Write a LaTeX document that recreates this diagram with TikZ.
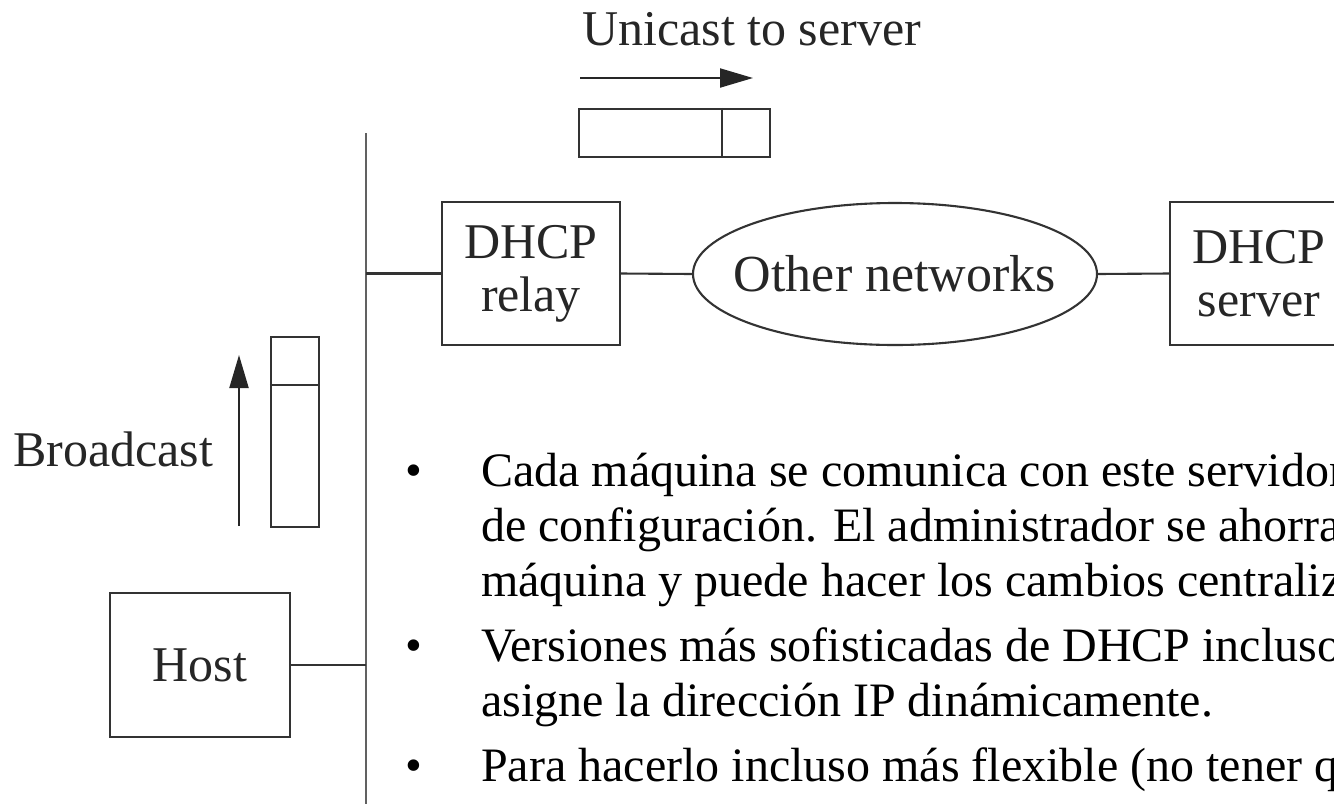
\documentclass[tikz,border=0pt]{standalone}
\usepackage{fontspec}
\setmainfont{Liberation Serif}
\usetikzlibrary{arrows.meta,shapes.geometric}
\begin{document}
\begin{tikzpicture}[x=1pt,y=-1pt,
  ln/.style={line width=2.1pt, draw=black!80},
  box/.style={ln, rectangle, minimum width=178pt, minimum height=143pt, inner sep=0pt, align=center, text=black!85, font=\fontsize{50}{53}\selectfont},
  pkt/.style={ln, rectangle, inner sep=0pt},
  lbl/.style={inner sep=0pt, anchor=base west, text=black!85, font=\fontsize{50}{53}\selectfont},
  txt/.style={inner sep=0pt, anchor=base west, font=\fontsize{48}{52}\selectfont},
  arr/.style={line width=2.1pt, draw=black!85, -{Triangle[length=33pt,width=19pt]}},
]
\useasboundingbox (0,0) rectangle (1334,804);
\begin{scope}
\clip (0,0) rectangle (1334,804);
% network bus
\coordinate (bustop) at (366,133);
\coordinate (busbot) at (366,804);
\draw[line width=2.6pt, draw=black!62] (bustop) -- (busbot);

% top row
\node[box] (relay) at (531,273.5) {DHCP\\relay};
\node[ln, ellipse, minimum width=404pt, minimum height=142pt, inner sep=0pt, text=black!85, font=\fontsize{52}{55}\selectfont] (net) at (895,274) {\makebox[0pt]{Other networks}};
\node[box] (server) at (1259,273.5) {DHCP\\server};
\draw[ln] (relay.west) -- (relay.west -| bustop);
\draw[ln] (relay.east) -- (net.west);
\draw[ln] (net.east) -- (server.west);

% unicast
\node[lbl] (unilbl) at (582,45) {Unicast to server};
\coordinate (ua0) at (580,78);
\coordinate (ua1) at (753,78);
\draw[arr] (ua0) -- (ua1);
\node[pkt, minimum width=191pt, minimum height=48pt] (upkt) at (674.5,133) {};
\draw[ln] (upkt.north -| 722,0) -- (upkt.south -| 722,0);

% host
\node[box, minimum width=180pt, minimum height=144pt] (host) at (200,665) {Host};
\draw[ln] (host.east) -- (host.east -| bustop);

% broadcast
\node[lbl] (bclbl) at (13,466) {Broadcast};
\coordinate (ba0) at (239,526);
\coordinate (ba1) at (239,355);
\draw[arr] (ba0) -- (ba1);
\node[pkt, minimum width=48pt, minimum height=190pt] (bpkt) at (295,432) {};
\draw[ln] (bpkt.west |- 0,385) -- (bpkt.east |- 0,385);

% bullet text
\node[txt] (d1) at (405,486) {•};
\node[txt] (t1) at (481,486) {Cada máquina se comunica con este servidor};
\node[txt] (t2) at (481,541) {de configuración. El administrador se ahorra};
\node[txt] (t3) at (481,596) {máquina y puede hacer los cambios centraliz};
\node[txt] (d2) at (405,661) {•};
\node[txt] (t4) at (481,661) {Versiones más sofisticadas de DHCP incluso};
\node[txt] (t5) at (481,716) {asigne la dirección IP dinámicamente.};
\node[txt] (d3) at (405,781) {•};
\node[txt] (t6) at (481,781) {Para hacerlo incluso más flexible (no tener q};
\end{scope}
\end{tikzpicture}
\end{document}
